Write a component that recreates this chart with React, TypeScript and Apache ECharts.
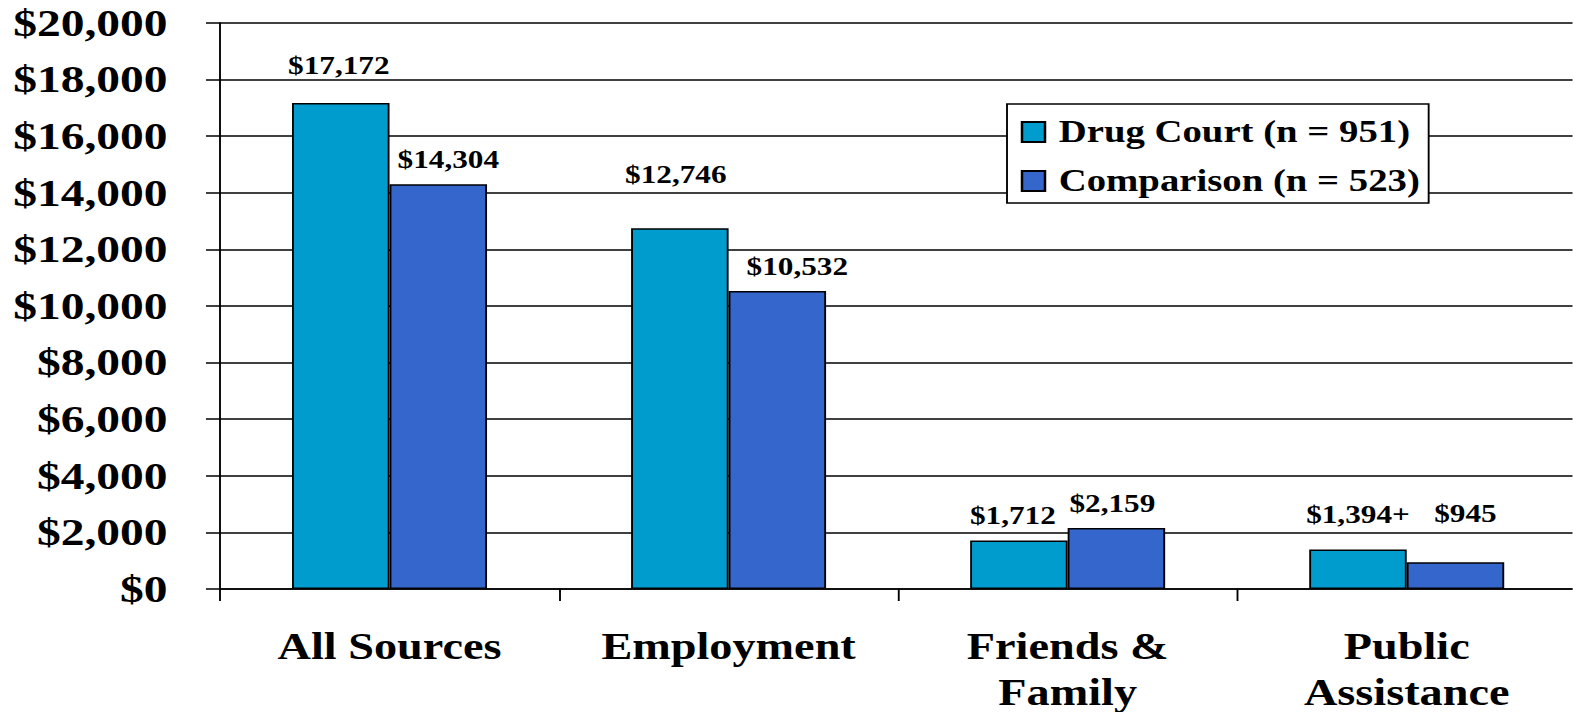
import React, { useEffect, useRef } from "react";
import * as echarts from "echarts";

// ---- data ----
const categories = ["All Sources", "Employment", "Friends &\nFamily", "Public\nAssistance"];
const seriesNames = ["Drug Court (n = 951)", "Comparison (n = 523)"];
const drugCourt = [17172, 12746, 1712, 1394];
const comparison = [14304, 10532, 2159, 945];
const drugCourtNotes = ["", "", "", "+"];
const comparisonNotes = ["", "", "", ""];
const yMin = 0;
const yMax = 20000;
const yStep = 2000;

// ---- layout (screen px, the picture is stretched horizontally) ----
const S = 1.25;
const drugCourtNudge = [[-2, 13], [-4, 29], [-6, 0], [0, 10]];
const comparisonNudge = [[10, 0], [20, 0], [-4, 0], [10, 24]];

const FONT = "'Liberation Serif', 'Times New Roman', Times, serif";
const money = (v: number) => "$" + Math.round(v).toLocaleString("en-US");

function buildSeries(name: string, values: number[], notes: string[], nudge: number[][], color: string) {
  return {
    name,
    type: "bar",
    barWidth: 78,
    barGap: "0%",
    itemStyle: { color, borderColor: "#000", borderWidth: 1.5 },
    label: {
      show: true,
      position: "top",
      distance: 12,
      fontFamily: FONT,
      fontWeight: "bold",
      fontSize: 25,
      color: "#000",
      formatter: (p: any) => money(p.value) + notes[p.dataIndex],
    },
    data: values.map((v, i) => ({
      value: v,
      label: { offset: [nudge[i][0] / S, -nudge[i][1]] },
    })),
  };
}

export default function App() {
  const ref = useRef<HTMLDivElement>(null);
  useEffect(() => {
    document.body.style.overflow = "hidden";
    document.documentElement.style.overflow = "hidden";
    const chart = echarts.init(ref.current!, null, { renderer: "svg" });
    chart.setOption({
      animation: false,
      backgroundColor: "#fff",
      textStyle: { fontFamily: FONT },
      grid: {
        left: 176,
        top: 23,
        bottom: 123,
        width: 1085,
        containLabel: false,
        outerBoundsMode: "none",
      },
      legend: {
        orient: "vertical",
        left: 805.6,
        top: 104,
        padding: [9, 7, 3, 11],
        itemGap: 11,
        itemWidth: 18.4,
        itemHeight: 20,
        backgroundColor: "#fff",
        borderColor: "#000",
        borderWidth: 1.5,
        borderRadius: 0,
        selectedMode: false,
        icon: "rect",
        textStyle: {
          fontFamily: FONT,
          fontWeight: "bold",
          fontSize: 31,
          lineHeight: 38,
          color: "#000",
          padding: [0, 0, 0, 6],
        },
        data: seriesNames,
      },
      xAxis: {
        type: "category",
        data: categories,
        axisLine: { lineStyle: { color: "#000", width: 1.5 } },
        axisTick: { show: true, length: 12, lineStyle: { color: "#000", width: 1.5 } },
        axisLabel: {
          fontFamily: FONT,
          fontWeight: "bold",
          fontSize: 37,
          lineHeight: 46,
          color: "#000",
          margin: 35,
          interval: 0,
        },
      },
      yAxis: {
        type: "value",
        min: yMin,
        max: yMax,
        interval: yStep,
        axisLine: { show: true, lineStyle: { color: "#000", width: 1.5 } },
        axisTick: { show: true, length: 11.2, lineStyle: { color: "#000", width: 1.5 } },
        splitLine: { show: true, lineStyle: { color: "#000", width: 1.5 } },
        axisLabel: {
          fontFamily: FONT,
          fontWeight: "bold",
          fontSize: 38,
          color: "#000",
          margin: 42,
          formatter: (v: number) => money(v),
        },
      },
      series: [
        buildSeries(seriesNames[0], drugCourt, drugCourtNotes, drugCourtNudge, "#019CCE"),
        buildSeries(seriesNames[1], comparison, comparisonNotes, comparisonNudge, "#3466CC"),
      ],
    });
    return () => chart.dispose();
  }, []);
  return (
    <div
      style={{
        position: "absolute",
        left: 0,
        top: 0,
        width: 1573,
        height: 712,
        overflow: "hidden",
      }}
    >
      <div
        ref={ref}
        style={{
          position: "absolute",
          left: 0,
          top: 0,
          width: 1258,
          height: 712,
          overflow: "hidden",
          transform: `scaleX(${S})`,
          transformOrigin: "0 0",
        }}
      />
    </div>
  );
}
